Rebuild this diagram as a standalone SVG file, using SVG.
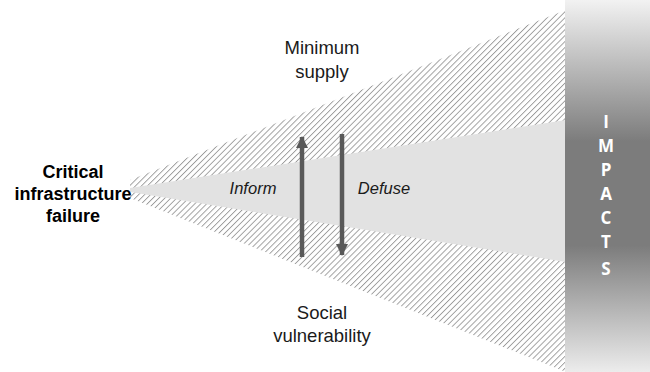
<svg xmlns="http://www.w3.org/2000/svg" width="650" height="372" viewBox="0 0 650 372">
<style>
.lbl{font-family:"Liberation Sans",Arial,sans-serif;font-size:18.5px;fill:#1a1a1a;text-anchor:middle}
.b{font-weight:bold;font-size:18px;fill:#000}
.i{font-style:italic;font-size:16.5px}
.imp{font-family:"Open Sans","Noto Sans",sans-serif;font-weight:bold;font-size:17px;fill:#fff;text-anchor:middle}
.arr{stroke:#595959;stroke-width:4.5;fill:none}
</style>
<defs>
<pattern id="hatch" patternUnits="userSpaceOnUse" width="4.2" height="4.2" patternTransform="rotate(45)">
<rect width="4.2" height="4.2" fill="#fff"/>
<line x1="0" y1="0" x2="0" y2="4.2" stroke="#9a9a9a" stroke-width="1.8"/>
</pattern>
<linearGradient id="bar" x1="0" y1="0" x2="0" y2="1">
<stop offset="0" stop-color="#f2f2f2"/>
<stop offset="0.38" stop-color="#7c7c7c"/>
<stop offset="0.66" stop-color="#7c7c7c"/>
<stop offset="1" stop-color="#ececec"/>
</linearGradient>
<marker id="ah" viewBox="0 0 12 12" refX="11" refY="6" markerWidth="12" markerHeight="12" markerUnits="userSpaceOnUse" orient="auto">
<path d="M0,0 L12,6 L0,12 Z" fill="#595959"/>
</marker>
</defs>
<g id="wedge">
<polygon points="130,180 566,10 566,372 130,198" fill="url(#hatch)"/>
<polygon points="130,188 566,120 566,262 130,192" fill="#e2e2e2"/>
</g>
<g id="impacts">
<rect x="565" y="0" width="85" height="372" fill="url(#bar)"/>
<text class="imp" x="606" y="128">I</text>
<text class="imp" x="606" y="152">M</text>
<text class="imp" x="606" y="176">P</text>
<text class="imp" x="606" y="200">A</text>
<text class="imp" x="606" y="224">C</text>
<text class="imp" x="606" y="248">T</text>
<text class="imp" x="606" y="275">S</text>
</g>
<g id="connectors">
<line class="arr" x1="302" y1="257" x2="302" y2="137" marker-end="url(#ah)"/>
<line class="arr" x1="342" y1="134" x2="342" y2="255" marker-end="url(#ah)"/>
</g>
<g id="critical">
<text class="lbl b" x="73" y="178">Critical</text>
<text class="lbl b" x="73" y="200">infrastructure</text>
<text class="lbl b" x="73" y="222">failure</text>
</g>
<g id="minimum">
<text class="lbl" x="322" y="54">Minimum</text>
<text class="lbl" x="322" y="78">supply</text>
</g>
<g id="social">
<text class="lbl" x="322" y="319">Social</text>
<text class="lbl" x="322" y="342">vulnerability</text>
</g>
<g id="inform"><text class="lbl i" x="253" y="194">Inform</text></g>
<g id="defuse"><text class="lbl i" x="384" y="194">Defuse</text></g>
</svg>
